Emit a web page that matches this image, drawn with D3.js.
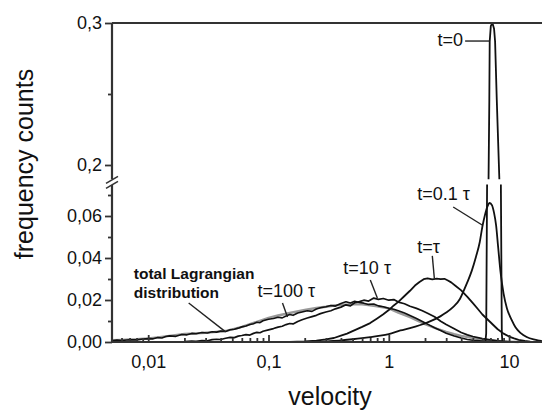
<!DOCTYPE html>
<html><head><meta charset="utf-8">
<script src="https://cdn.jsdelivr.net/npm/d3@7"></script>
<style>body{margin:0;background:#fff}svg{display:block}text{font-family:"Liberation Sans",Arial,Helvetica,sans-serif;fill:#111}</style>
</head><body><svg id="c" width="542" height="410"></svg>
<script>
// ---------- data (velocity, frequency counts) ----------
const lagrangianV = [0.005,0.006,0.007,0.008,0.01,0.012,0.015,0.018,0.02,0.025,0.03,0.035,0.04,0.045,0.05,0.06,0.07,0.08,0.1,0.12,0.15,0.2,0.25,0.3,0.35,0.4,0.5,0.6,0.7,0.8,1.0,1.2,1.5,2,2.5,3,3.5,4,5,6,7,8,10,12];
const lagrangianY = [0.0008,0.0010,0.0012,0.0013,0.0017,0.0022,0.0029,0.0035,0.0038,0.0041,0.0044,0.0047,0.0050,0.0054,0.0060,0.0072,0.0085,0.0096,0.0115,0.0126,0.0138,0.0153,0.0162,0.0168,0.0174,0.0177,0.0180,0.0179,0.0175,0.0170,0.0160,0.0140,0.0118,0.0085,0.0064,0.0048,0.0037,0.0029,0.0019,0.0012,0.0008,0.0005,0.0002,0.0];

const t100V = [0.005,0.0055,0.006,0.007,0.008,0.009,0.01,0.011,0.012,0.013,0.014,0.015,0.017,0.019,0.021,0.023,0.025,0.028,0.031,0.034,0.037,0.04,0.044,0.048,0.052,0.056,0.06,0.065,0.07,0.075,0.08,0.085,0.09,0.1,0.11,0.12,0.13,0.14,0.15,0.16,0.175,0.19,0.21,0.23,0.25,0.27,0.3,0.33,0.36,0.4,0.44,0.48,0.52,0.57,0.62,0.68,0.75,0.82,0.9,1.0,1.1,1.2,1.35,1.5,1.7,1.9,2.1,2.4,2.7,3.0,3.5,4,4.5,5,6,7,8];
const t100Y = [0.0006,0.0009,0.0007,0.0011,0.0010,0.0014,0.0016,0.0015,0.0021,0.0019,0.0026,0.0029,0.0027,0.0036,0.0034,0.0041,0.0039,0.0045,0.0043,0.0049,0.0047,0.0052,0.0050,0.0058,0.0061,0.0066,0.0072,0.0076,0.0083,0.0087,0.0094,0.0092,0.0101,0.0108,0.0112,0.0118,0.0115,0.0124,0.0131,0.0127,0.0138,0.0143,0.0149,0.0146,0.0157,0.0163,0.0168,0.0174,0.0171,0.0183,0.0192,0.0186,0.0194,0.0188,0.0185,0.0179,0.0181,0.0172,0.0168,0.0161,0.0156,0.0149,0.0138,0.0126,0.0112,0.0098,0.0085,0.0068,0.0055,0.0042,0.0029,0.0019,0.0012,0.0008,0.0004,0.0002,0];

const t10V = [0.02,0.023,0.025,0.028,0.031,0.034,0.037,0.04,0.044,0.048,0.052,0.056,0.06,0.065,0.07,0.075,0.08,0.085,0.09,0.1,0.11,0.12,0.13,0.14,0.15,0.16,0.175,0.19,0.21,0.23,0.25,0.27,0.3,0.33,0.36,0.4,0.44,0.48,0.52,0.57,0.62,0.68,0.75,0.82,0.9,1.0,1.1,1.2,1.35,1.5,1.7,1.9,2.1,2.4,2.7,3.0,3.5,4,4.5,5,6,7,8,9,10,11];
const t10Y = [0.0002,0.0004,0.0003,0.0007,0.0006,0.0011,0.0013,0.0012,0.0018,0.0022,0.0021,0.0028,0.0031,0.0035,0.0033,0.0041,0.0046,0.0044,0.0051,0.0058,0.0064,0.0071,0.0075,0.0083,0.0088,0.0086,0.0098,0.0106,0.0114,0.0121,0.0127,0.0135,0.0143,0.0149,0.0158,0.0166,0.0177,0.0172,0.0187,0.0192,0.0199,0.0195,0.0209,0.0203,0.0207,0.0199,0.0202,0.0190,0.0182,0.0170,0.0160,0.0149,0.0137,0.0120,0.0099,0.0083,0.0063,0.0045,0.0034,0.0026,0.0016,0.0010,0.0006,0.0003,0.0001,0];

const tTauV = [0.15,0.2,0.25,0.3,0.35,0.4,0.45,0.5,0.6,0.7,0.8,0.9,1.0,1.1,1.2,1.35,1.5,1.65,1.8,1.95,2.1,2.3,2.5,2.7,2.9,3.1,3.3,3.6,4.0,4.5,5,5.5,6,7,8,9,10,11,12,13.5,15,17];
const tTauY = [0,0.0003,0.0007,0.0012,0.0019,0.0030,0.0040,0.0052,0.0072,0.0090,0.0112,0.0132,0.0152,0.0174,0.0191,0.0219,0.0244,0.0269,0.0286,0.0299,0.0303,0.0298,0.0302,0.0299,0.0301,0.0293,0.0284,0.0267,0.0246,0.0215,0.0185,0.0157,0.0131,0.0094,0.0062,0.0040,0.0026,0.0017,0.0010,0.0005,0.0002,0];

const t01V = [0.25,0.3,0.4,0.5,0.6,0.7,0.85,1.0,1.25,1.5,1.83,2.2,2.68,3.0,3.4,3.9,4.2,4.5,4.9,5.3,5.7,6.0,6.3,6.6,6.9,7.2,7.5,7.8,8.1,8.5,9.0,9.6,10.5,11.3,12.5,14,16,18,20];
const t01Y = [0,0.0003,0.0008,0.0013,0.0018,0.0023,0.0030,0.0038,0.0055,0.0066,0.0081,0.0098,0.0122,0.0140,0.0165,0.0205,0.0245,0.0285,0.0340,0.0405,0.0475,0.0550,0.0605,0.0645,0.0662,0.0652,0.0615,0.0555,0.0455,0.0330,0.0230,0.0160,0.0105,0.0070,0.0042,0.0024,0.0012,0.0006,0.0002];

const t0V = [6.35,6.45,6.75,6.85,6.9,7.05,7.27,7.5,7.65,7.9,8.3,8.7,8.8];
const t0Y = [0,0.004,0.19,0.246,0.287,0.298,0.3,0.296,0.287,0.246,0.19,0.004,0];

// ticks
const xTickValues = [0.01,0.1,1,10];
const xTickLabels = ["0,01","0,1","1","10"];
const yLowTicks = [0,0.02,0.04,0.06];
const yLowLabels = ["0,00","0,02","0,04","0,06"];
const yLowMinor = [0.01,0.03,0.05,0.07];
const yHighTicks = [0.2,0.3];
const yHighLabels = ["0,2","0,3"];
const yHighMinor = [0.25];

// annotations (data coordinates)
const annotations = [
  {text:["t=0"], panel:"high", at:[4.15,[0.2838]], anchor:"end", from:[4.31,0.2873], to:[6.88,0.2873]},
  {text:["t=0.1 τ"], panel:"low", at:[1.72,[0.0676]], anchor:"start", from:[3.43,0.0643], to:[5.97,0.0557]},
  {text:["t=τ"], panel:"low", at:[1.72,[0.0424]], anchor:"start", from:[2.30,0.0410], to:[2.39,0.0305]},
  {text:["t=10 τ"], panel:"low", at:[0.419,[0.0324]], anchor:"start", from:[0.702,0.0295], to:[0.803,0.0210]},
  {text:["t=100 τ"], panel:"low", at:[0.081,[0.0214]], anchor:"start", from:[0.1307,0.0186], to:[0.1438,0.0119]},
  {text:["total Lagrangian","distribution"], panel:"low", small:true, at:[0.00759,[0.0300,0.0210]], anchor:"start", from:[0.0217,0.0186], to:[0.044,0.0048]}
];

// ---------- drawing ----------
const svg = d3.select("#c");
svg.append("rect").attr("width",542).attr("height",410).attr("fill","#fff");
const x = d3.scaleLog().domain([0.005,20]).range([112,545.3]);
const yLow = d3.scaleLinear().domain([0,0.075]).range([342,184.5]);
const yHigh = d3.scaleLinear().domain([0.19,0.3]).range([179.2,23]);
const axisColor = "#333";

const defs = svg.append("defs");
defs.append("clipPath").attr("id","clipLow").append("rect")
  .attr("x",x(0.005)).attr("y",yLow(0.075)).attr("width",542-x(0.005)).attr("height",yLow(0)-yLow(0.075)+2);
defs.append("clipPath").attr("id","clipHigh").append("rect")
  .attr("x",x(0.005)).attr("y",yHigh(0.3)-2).attr("width",542-x(0.005)).attr("height",yHigh(0.19)-yHigh(0.3)+2);

const series = [
  {v:lagrangianV, y:lagrangianY, color:"#999", w:2.4},
  {v:t100V, y:t100Y, color:"#111", w:1.6},
  {v:t10V, y:t10Y, color:"#111", w:1.7},
  {v:tTauV, y:tTauY, color:"#111", w:1.8},
  {v:t01V, y:t01Y, color:"#111", w:1.8, smooth:true},
  {v:t0V, y:t0Y, color:"#111", w:1.8}
];

function drawPanel(yScale, clipId){
  const g = svg.append("g").attr("clip-path",`url(#${clipId})`);
  series.forEach(s=>{
    const pts = s.v.map((v,i)=>[v,s.y[i]]);
    const line = d3.line().x(d=>x(d[0])).y(d=>yScale(d[1]))
      .curve(s.smooth?d3.curveMonotoneX:d3.curveLinear);
    g.append("path").attr("d",line(pts)).attr("fill","none")
      .attr("stroke",s.color).attr("stroke-width",s.w).attr("stroke-linejoin","round");
  });
}
drawPanel(yLow,"clipLow");
drawPanel(yHigh,"clipHigh");

// frame lines
svg.append("line").attr("x1",x(0.005)).attr("x2",542).attr("y1",yHigh(0.3)).attr("y2",yHigh(0.3))
  .attr("stroke",axisColor).attr("stroke-width",2.2);
svg.append("line").attr("x1",x(0.005)).attr("x2",542).attr("y1",yLow(0)).attr("y2",yLow(0))
  .attr("stroke",axisColor).attr("stroke-width",2.2);
svg.append("line").attr("x1",x(0.005)).attr("x2",x(0.005)).attr("y1",yHigh(0.3)).attr("y2",yHigh(0.19))
  .attr("stroke",axisColor).attr("stroke-width",2.2);
svg.append("line").attr("x1",x(0.005)).attr("x2",x(0.005)).attr("y1",yLow(0.075)).attr("y2",yLow(0))
  .attr("stroke",axisColor).attr("stroke-width",2.2);

function styleAxis(g){
  g.select(".domain").remove();
  g.selectAll(".tick line").attr("stroke",axisColor).attr("stroke-width",1.8);
  g.selectAll(".tick text").attr("font-size",18).attr("fill","#111")
    .attr("font-family","'Liberation Sans',Arial,sans-serif");
}
// y lower
svg.append("g").attr("transform",`translate(${x(0.005)},0)`)
  .call(d3.axisLeft(yLow).tickValues(yLowTicks).tickSize(7).tickPadding(3)
    .tickFormat((d,i)=>yLowLabels[i])).call(styleAxis);
svg.append("g").attr("transform",`translate(${x(0.005)},0)`)
  .call(d3.axisLeft(yLow).tickValues(yLowMinor).tickSize(4).tickFormat("")).call(styleAxis);
// y upper
svg.append("g").attr("transform",`translate(${x(0.005)},0)`)
  .call(d3.axisLeft(yHigh).tickValues(yHighTicks).tickSize(7).tickPadding(3)
    .tickFormat((d,i)=>yHighLabels[i])).call(styleAxis);
svg.append("g").attr("transform",`translate(${x(0.005)},0)`)
  .call(d3.axisLeft(yHigh).tickValues(yHighMinor).tickSize(4).tickFormat("")).call(styleAxis);

// x axis (ticks point inward)
const xMinor = [];
[0.001,0.01,0.1,1,10].forEach(dec=>{ for(let k=2;k<=9;k++){const v=k*dec; if(v>=0.005&&v<=20&&!xTickValues.includes(v)) xMinor.push(v);} });
svg.append("g").attr("transform",`translate(0,${yLow(0)})`)
  .call(d3.axisBottom(x).tickValues(xTickValues).tickSize(-7).tickPadding(13)
    .tickFormat((d,i)=>xTickLabels[i])).call(styleAxis);
svg.append("g").attr("transform",`translate(0,${yLow(0)})`)
  .call(d3.axisBottom(x).tickValues(xMinor.filter(v=>x(v)>x(0.005)+1)).tickSize(-4).tickFormat("")).call(styleAxis);

// axis break marks
const bx = x(0.005), by = (yHigh(0.19)+yLow(0.075))/2;
svg.append("polygon").attr("points",`${bx-6},${by+1.5} ${bx+6},${by-5.5} ${bx+6},${by-0.5} ${bx-6},${by+6.5}`).attr("fill","#fff");
[[0],[5]].forEach(([o])=>{
  svg.append("line").attr("x1",bx-6).attr("y1",by+1.5+o).attr("x2",bx+6).attr("y2",by-5.5+o)
    .attr("stroke",axisColor).attr("stroke-width",1.6);
});

// axis titles
svg.append("text").attr("x",330).attr("y",405).attr("text-anchor","middle").attr("font-size",25).text("velocity");
svg.append("text").attr("transform","translate(33,164) rotate(-90)").attr("text-anchor","middle").attr("font-size",25).text("frequency counts");

// annotations
annotations.forEach(a=>{
  const ys = a.panel==="high"?yHigh:yLow;
  a.text.forEach((t,i)=>{
    svg.append("text").attr("x",x(a.at[0])).attr("y",ys(a.at[1][i]))
      .attr("text-anchor",a.anchor).attr("font-size",a.small?15.5:18)
      .attr("font-weight",a.small?"bold":"normal").text(t);
  });
  svg.append("line").attr("x1",x(a.from[0])).attr("y1",ys(a.from[1]))
    .attr("x2",x(a.to[0])).attr("y2",ys(a.to[1])).attr("stroke","#222").attr("stroke-width",1.4);
});
</script></body></html>
